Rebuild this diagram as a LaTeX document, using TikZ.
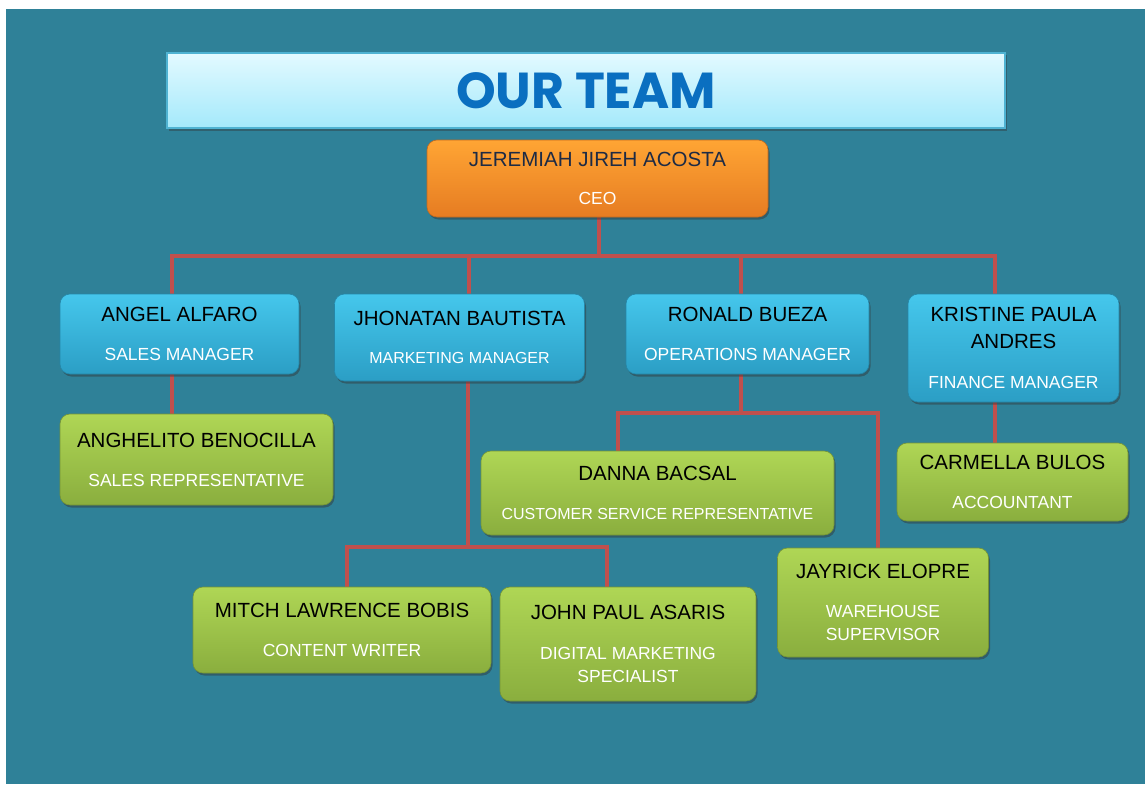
\documentclass[tikz,border=0pt]{standalone}
\usepackage{fontspec}
\setmainfont{Liberation Sans}
\newfontfamily\headfont{Poppins}
\usetikzlibrary{shadows}

% palette
\definecolor{pagebg}{HTML}{2F8198}
\definecolor{mgrtop}{HTML}{45C7EC}
\definecolor{mgrbot}{HTML}{2B9EC5}
\definecolor{stafftop}{HTML}{AFD655}
\definecolor{staffbot}{HTML}{8AAE3E}
\definecolor{ceotop}{HTML}{FFA534}
\definecolor{ceobot}{HTML}{E67C22}
\definecolor{ceoname}{HTML}{1D2B45}
\definecolor{linkred}{HTML}{C0504D}
\definecolor{bannertop}{HTML}{E3FAFF}
\definecolor{bannerbot}{HTML}{A4E9FB}
\definecolor{banneredge}{HTML}{4FB3D2}
\definecolor{bannertext}{HTML}{0A6FC0}

% job-title lines under each name (applied per line)
\newcommand\role{\fontsize{17.5}{23}\selectfont\color{white}}
\newcommand\rolesm{\fontsize{16}{21}\selectfont\color{white}}

\pgfdeclarelayer{backdrop}
\pgfdeclarelayer{wires}
\pgfsetlayers{backdrop,wires,main}

\tikzset{
  card/.style={rounded corners=10pt, align=center, inner sep=0pt,
    font=\fontsize{20.5}{27}\selectfont, text=black, line width=.6pt,
    drop shadow={shadow xshift=1.5pt, shadow yshift=-2.5pt, opacity=.45, fill=black!80}},
  mgr/.style={card, top color=mgrtop, bottom color=mgrbot, draw=mgrbot!85!black},
  staff/.style={card, top color=stafftop, bottom color=staffbot, draw=staffbot!85!black},
  chief/.style={card, top color=ceotop, bottom color=ceobot, draw=ceobot!85!black, text=ceoname},
  banner/.style={top color=bannertop, bottom color=bannerbot, draw=banneredge, line width=1.2pt,
    inner sep=0pt, text=bannertext,
    font=\headfont\bfseries\fontsize{50.5}{50}\selectfont,
    drop shadow={shadow xshift=1.5pt, shadow yshift=-2.5pt, opacity=.4, fill=black!80}},
  link/.style={draw=linkred, line width=4pt, line join=miter}
}

\begin{document}
\begin{tikzpicture}[x=1pt, y=-1pt]
\useasboundingbox (0,0) rectangle (1145,784);
\begin{pgfonlayer}{backdrop}
  \fill[white] (0,0) rectangle (1145,784);
  \fill[pagebg] (6,9) rectangle (1145,784);
\end{pgfonlayer}

% heading
\node[banner, minimum width=838pt, minimum height=75pt] (banner) at (586,90.5) {OUR TEAM};

% chief executive
\node[chief, minimum width=341pt, minimum height=77pt] (ceo) at (597.5,178.5)
  {JEREMIAH JIREH ACOSTA\\[11pt]\role CEO};

% managers
\node[mgr, minimum width=239pt, minimum height=80pt] (angel) at (179.5,334)
  {ANGEL ALFARO\\[12pt]\role SALES MANAGER};
\node[mgr, minimum width=250pt, minimum height=87pt] (jhon) at (459.5,337.5)
  {JHONATAN BAUTISTA\\[11pt]\rolesm MARKETING MANAGER};
\node[mgr, minimum width=243pt, minimum height=80pt] (ronald) at (747.5,334)
  {RONALD BUEZA\\[12pt]\role OPERATIONS MANAGER};
\node[mgr, minimum width=211pt, minimum height=108pt] (kristine) at (1013.5,348)
  {KRISTINE PAULA\\ANDRES\\[13pt]\role FINANCE MANAGER};

% staff
\node[staff, minimum width=273pt, minimum height=91pt] (anghel) at (196.5,459.5)
  {ANGHELITO BENOCILLA\\[12pt]\role SALES REPRESENTATIVE};
\node[staff, minimum width=353pt, minimum height=84pt] (danna) at (657.5,493)
  {DANNA BACSAL\\[12pt]\rolesm CUSTOMER SERVICE REPRESENTATIVE};
\node[staff, minimum width=231pt, minimum height=78pt] (carmella) at (1012.5,482)
  {CARMELLA BULOS\\[12pt]\role ACCOUNTANT};
\node[staff, minimum width=298pt, minimum height=86pt] (mitch) at (342,630)
  {MITCH LAWRENCE BOBIS\\[12pt]\role CONTENT WRITER};
\node[staff, minimum width=256pt, minimum height=114pt] (jp) at (628,644)
  {JOHN PAUL ASARIS\\[13pt]\role DIGITAL MARKETING\\[-4pt]\role SPECIALIST};
\node[staff, minimum width=211pt, minimum height=109pt] (jayrick) at (883,602.5)
  {JAYRICK ELOPRE\\[12pt]\role WAREHOUSE\\[-4pt]\role SUPERVISOR};

% reporting lines
\begin{pgfonlayer}{wires}
  \draw[link] ([xshift=1.5pt]ceo.south) -- ++(0,39) -| ([xshift=-7.5pt]angel.north);
  \draw[link] ([xshift=1.5pt]ceo.south) -- ++(0,39) -| ([xshift=9.5pt]jhon.north);
  \draw[link] ([xshift=1.5pt]ceo.south) -- ++(0,39) -| ([xshift=-6.5pt]ronald.north);
  \draw[link] ([xshift=1.5pt]ceo.south) -- ++(0,39) -| ([xshift=-18.5pt]kristine.north);

  \draw[link] ([xshift=-7.5pt]angel.south) -- ([xshift=-24.5pt]anghel.north);

  \draw[link] ([xshift=8.5pt]jhon.south) -- ++(0,166) -| ([xshift=5pt]mitch.north);
  \draw[link] ([xshift=8.5pt]jhon.south) -- ++(0,166) -| ([xshift=-21pt]jp.north);

  \draw[link] ([xshift=-6.5pt]ronald.south) -- ++(0,39) -| ([xshift=-39.5pt]danna.north);
  \draw[link] ([xshift=-6.5pt]ronald.south) -- ++(0,39) -| ([xshift=-5pt]jayrick.north);

  \draw[link] ([xshift=-18.5pt]kristine.south) -- ([xshift=-17.5pt]carmella.north);
\end{pgfonlayer}
\end{tikzpicture}
\end{document}
